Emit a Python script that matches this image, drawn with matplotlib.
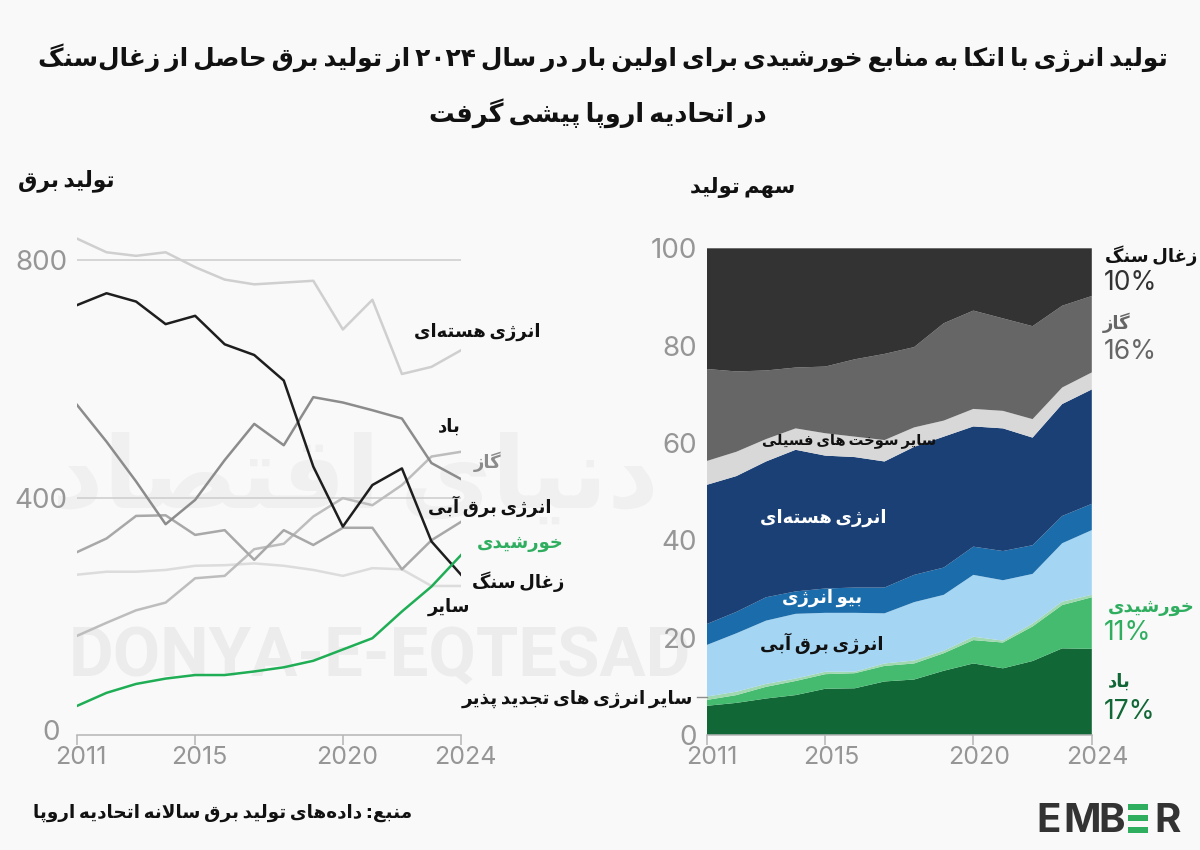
import re
import matplotlib
matplotlib.use('Agg')
import matplotlib.pyplot as plt
from matplotlib.patches import Rectangle
from matplotlib.transforms import ScaledTranslation

# left chart, TWh
years = list(range(2011, 2025))
nuclear_twh = [836, 813, 807, 813, 788, 767, 759, 762, 765, 683, 733, 608, 620, 648]
coal_twh = [724, 744, 730, 692, 706, 658, 640, 597, 452, 351, 421, 449, 326, 270]
gas_twh = [556, 494, 427, 355, 396, 463, 524, 488, 569, 560, 547, 533, 458, 431]
wind_twh = [167, 189, 210, 223, 264, 268, 313, 322, 368, 399, 387, 421, 469, 477]
hydro_twh = [308, 331, 369, 370, 337, 345, 295, 345, 320, 349, 349, 279, 328, 359]
other_twh = [270, 275, 275, 278, 285, 286, 289, 285, 278, 268, 281, 279, 251, 251]
solar_twh = [49, 71, 86, 95, 101, 101, 107, 114, 125, 144, 163, 208, 250, 303]

# right chart, share in percent (bottom to top)
wind_share = [6.0, 6.6, 7.5, 8.2, 9.5, 9.6, 11.0, 11.4, 13.2, 14.7, 13.7, 15.2, 17.8, 17.7]
solar_share = [1.2, 1.6, 2.4, 2.9, 3.0, 3.1, 3.2, 3.3, 3.6, 4.8, 5.3, 7.1, 8.9, 10.6]
other_ren_share = [0.7, 0.7, 0.6, 0.5, 0.5, 0.3, 0.5, 0.6, 0.5, 0.7, 0.4, 0.6, 0.7, 0.5]
hydro_share = [10.6, 12.0, 13.0, 13.3, 12.1, 12.1, 10.3, 12.0, 11.5, 12.7, 12.4, 10.2, 12.0, 13.3]
bio_share = [4.3, 4.4, 4.8, 4.6, 5.0, 5.2, 5.3, 5.6, 5.6, 5.8, 6.0, 5.9, 5.6, 5.4]
nuclear_share = [28.6, 27.9, 27.9, 29.1, 27.3, 26.8, 25.9, 26.3, 26.9, 24.7, 25.2, 22.1, 23.0, 23.5]
other_fossil_share = [4.9, 5.0, 4.6, 4.4, 4.6, 4.2, 4.4, 4.0, 3.3, 3.6, 3.6, 3.8, 3.4, 3.5]
gas_share = [18.9, 16.5, 14.1, 12.5, 13.7, 15.9, 17.7, 16.5, 20.0, 20.2, 19.0, 19.1, 16.8, 15.7]
coal_share = [24.8, 25.3, 25.1, 24.5, 24.3, 22.8, 21.7, 20.3, 15.4, 12.8, 14.4, 16.0, 11.8, 9.8]

xticks = [2011, 2015, 2020, 2024]

BG = '#f9f9f9'
TICK = '#969696'
GREEN = '#2fae60'
NUM_FONT = 'Inter'

# matplotlib has no Arabic shaping, so pick the presentation forms by hand
# letter: (isolated, final, initial, medial)
def four(start):
    return tuple(chr(start + i) for i in range(4))

def two(start):
    return (chr(start), chr(start + 1), None, None)

FORMS = {
    'ا': two(0xFE8D), 'آ': two(0xFE81), 'د': two(0xFEA9), 'ذ': two(0xFEAB),
    'ر': two(0xFEAD), 'ز': two(0xFEAF), 'ژ': two(0xFB8A), 'و': two(0xFEED),
    'ب': four(0xFE8F), 'پ': four(0xFB56), 'ت': four(0xFE95), 'ث': four(0xFE99),
    'ج': four(0xFE9D), 'چ': four(0xFB7A), 'ح': four(0xFEA1), 'خ': four(0xFEA5),
    'س': four(0xFEB1), 'ش': four(0xFEB5), 'ص': four(0xFEB9), 'ض': four(0xFEBD),
    'ط': four(0xFEC1), 'ظ': four(0xFEC5), 'ع': four(0xFEC9), 'غ': four(0xFECD),
    'ف': four(0xFED1), 'ق': four(0xFED5), 'ک': four(0xFB8E), 'گ': four(0xFB92),
    'ل': four(0xFEDD), 'م': four(0xFEE1), 'ن': four(0xFEE5), 'ه': four(0xFEE9),
    'ی': four(0xFBFC),
}

def fa(text):
    text = text.replace('لا', '\uFEFB')
    out = []
    for i, ch in enumerate(text):
        if ch == '\u200c':
            continue
        prev = text[i - 1] if i > 0 else ''
        nxt = text[i + 1] if i + 1 < len(text) else ''
        if ch == '\uFEFB':
            join_prev = prev in FORMS and FORMS[prev][2] is not None
            out.append('\uFEFC' if join_prev else ch)
            continue
        if ch not in FORMS:
            out.append(ch)
            continue
        f = FORMS[ch]
        join_prev = prev in FORMS and FORMS[prev][2] is not None
        join_next = f[2] is not None and (nxt in FORMS or nxt == '\uFEFB')
        if join_prev and join_next:
            out.append(f[3])
        elif join_prev:
            out.append(f[1])
        elif join_next:
            out.append(f[2])
        else:
            out.append(f[0])
    s = ''.join(out)[::-1]
    s = re.sub(r'[۰-۹]+', lambda m: m.group(0)[::-1], s)
    # the reference sets words close together
    return s.replace(' ', '\u2009')

plt.rcParams['font.family'] = ['DejaVu Sans']

fig = plt.figure(figsize=(12, 8.5), dpi=100, facecolor=BG)

def fx(x):
    return x / 1200

def fy(y):
    return 1 - y / 850

def label(x, y, s, ha='left', color='#111111', size=13, weight='bold', **kw):
    return fig.text(fx(x), fy(y), fa(s), ha=ha, va='center', color=color,
                    fontsize=size, fontweight=weight, zorder=5, **kw)

def pct(x, y, s, color):
    fig.text(fx(x), fy(y), s, ha='left', va='center', color=color, fontsize=19,
             family=NUM_FONT, fontweight='normal', zorder=5)

def axes_px(x0, x1, y0, y1):
    # y0 = top pixel, y1 = bottom pixel
    ax = fig.add_axes([fx(x0), fy(y1), (x1 - x0) / 1200, (y1 - y0) / 850])
    ax.patch.set_visible(False)
    ax.set_zorder(2)
    return ax

def style_x(ax, dx):
    ax.set_xlim(2011, 2024)
    ax.set_xticks(xticks)
    ax.set_xticklabels([str(t) for t in xticks], family=NUM_FONT, fontsize=18,
                       color=TICK, fontweight='normal')
    ax.tick_params(axis='x', length=7, width=1.1, color='#b5b5b5', pad=1)
    off = ScaledTranslation(dx / 72, 0, fig.dpi_scale_trans)
    for t in ax.get_xticklabels():
        t.set_transform(t.get_transform() + off)
    for side in ['top', 'right', 'left']:
        ax.spines[side].set_visible(False)
    ax.spines['bottom'].set_color('#b5b5b5')
    ax.spines['bottom'].set_linewidth(1.1)

# watermark behind everything
fig.text(fx(355), fy(480), fa('دنیای اقتصاد'), ha='center', va='center', color='#f0f0f0',
         fontsize=72, fontweight='bold', zorder=0)
fig.text(fx(380), fy(658), 'DONYA-E-EQTESAD', ha='center', va='center', color='#ececec',
         fontsize=49.5, family='Roboto', fontweight='bold', zorder=0)

# left chart
ax1 = axes_px(77, 461, 235, 735)
ax1.set_ylim(0, 500 / 0.59375)
ax1.set_yticks([400, 800])
ax1.set_yticklabels(['400', '800'], family=NUM_FONT, fontsize=20, color=TICK, fontweight='normal')
ax1.tick_params(axis='y', length=0, pad=7)
ax1.text(-0.044, 0.004, '0', transform=ax1.transAxes, ha='right', va='center',
         family=NUM_FONT, fontsize=20, color=TICK, fontweight='normal')
ax1.grid(axis='y', color='#cccccc', lw=1.1)
ax1.set_axisbelow(True)
style_x(ax1, 3)
ax1.plot(years, other_twh, color='#dcdcdc', lw=1.8)
ax1.plot(years, nuclear_twh, color='#cfcfcf', lw=1.8)
ax1.plot(years, wind_twh, color='#bdbdbd', lw=1.8)
ax1.plot(years, hydro_twh, color='#a8a8a8', lw=1.8)
ax1.plot(years, gas_twh, color='#8c8c8c', lw=1.8)
ax1.plot(years, coal_twh, color='#1e1e1e', lw=1.8)
ax1.plot(years, solar_twh, color='#1fae55', lw=1.8)

# right chart
ax2 = axes_px(706.8, 1091.8, 248.3, 735)
ax2.set_ylim(0, 100)
ax2.stackplot(years, wind_share, solar_share, other_ren_share, hydro_share, bio_share,
              nuclear_share, other_fossil_share, gas_share, coal_share,
              colors=['#116735', '#45bb6f', '#a0d8b0', '#a4d5f3', '#1b6cab',
                      '#1a4076', '#d8d8d8', '#666666', '#333333'], lw=0)
ax2.set_yticks([0, 20, 40, 60, 80, 100])
ax2.set_yticklabels(['0', '20', '40', '60', '80', '100'], family=NUM_FONT, fontsize=20,
                    color=TICK, fontweight='normal')
ax2.tick_params(axis='y', length=0, pad=7)
style_x(ax2, 4)
ax2.plot([2010.66, 2011], [7.9, 7.9], color='#8c8c8c', lw=1, clip_on=False)

# title and headings
label(603, 58, 'تولید انرژی با اتکا به منابع خورشیدی برای اولین بار در سال ۲۰۲۴ از تولید برق حاصل از زغال‌سنگ',
      ha='center', size=17.9)
label(598, 113, 'در اتحادیه اروپا پیشی گرفت', ha='center', size=18.4)
label(115, 181, 'تولید برق', ha='right', size=15.7)
label(795, 188, 'سهم تولید', ha='right', size=15.2)
label(412, 813, 'منبع: داده‌های تولید برق سالانه اتحادیه اروپا', ha='right', size=13.2)

# left chart labels
label(540, 332, 'انرژی هسته‌ای', ha='right')
label(461, 427, 'باد', ha='right')
label(501, 462, 'گاز', ha='right', color='#8c8c8c')
label(552, 506, 'انرژی برق آبی', ha='right')
label(564, 543, 'خورشیدی', ha='right', color=GREEN)
label(564, 582, 'زغال سنگ', ha='right')
label(470, 607, 'سایر', ha='right')
label(693, 699, 'سایر انرژی های تجدید پذیر', ha='right', size=13.2)

# right chart labels
label(936, 440, 'سایر سوخت های فسیلی', ha='right', size=10.6)
label(887, 518, 'انرژی هسته‌ای', ha='right', color='white')
label(862, 598, 'بیو انرژی', ha='right', color='white')
label(883, 643, 'انرژی برق آبی', ha='right')
label(1197, 256, 'زغال سنگ', ha='right')
pct(1104, 283, '10%', '#333333')
label(1130, 323, 'گاز', ha='right', color='#666666')
pct(1104, 352, '16%', '#666666')
label(1195, 607, 'خورشیدی', ha='right', color=GREEN)
pct(1104, 633, '11%', GREEN)
label(1131, 682, 'باد', ha='right', color='#116735')
pct(1104, 712, '17%', '#116735')

# EMBER logo
for x, ch in [(1036, 'E'), (1063, 'M'), (1098, 'B'), (1154, 'R')]:
    fig.text(fx(x), fy(832), ch, ha='left', va='baseline', color='#333333',
             fontsize=29, family='Inter', fontweight='bold')
for y0 in [804, 815, 827]:
    fig.add_artist(Rectangle((fx(1128), fy(y0 + 5.5)), 20 / 1200, 5.5 / 850,
                             transform=fig.transFigure, color='#2fae60', lw=0))

fig.savefig('out.png', dpi=100, facecolor=BG)
